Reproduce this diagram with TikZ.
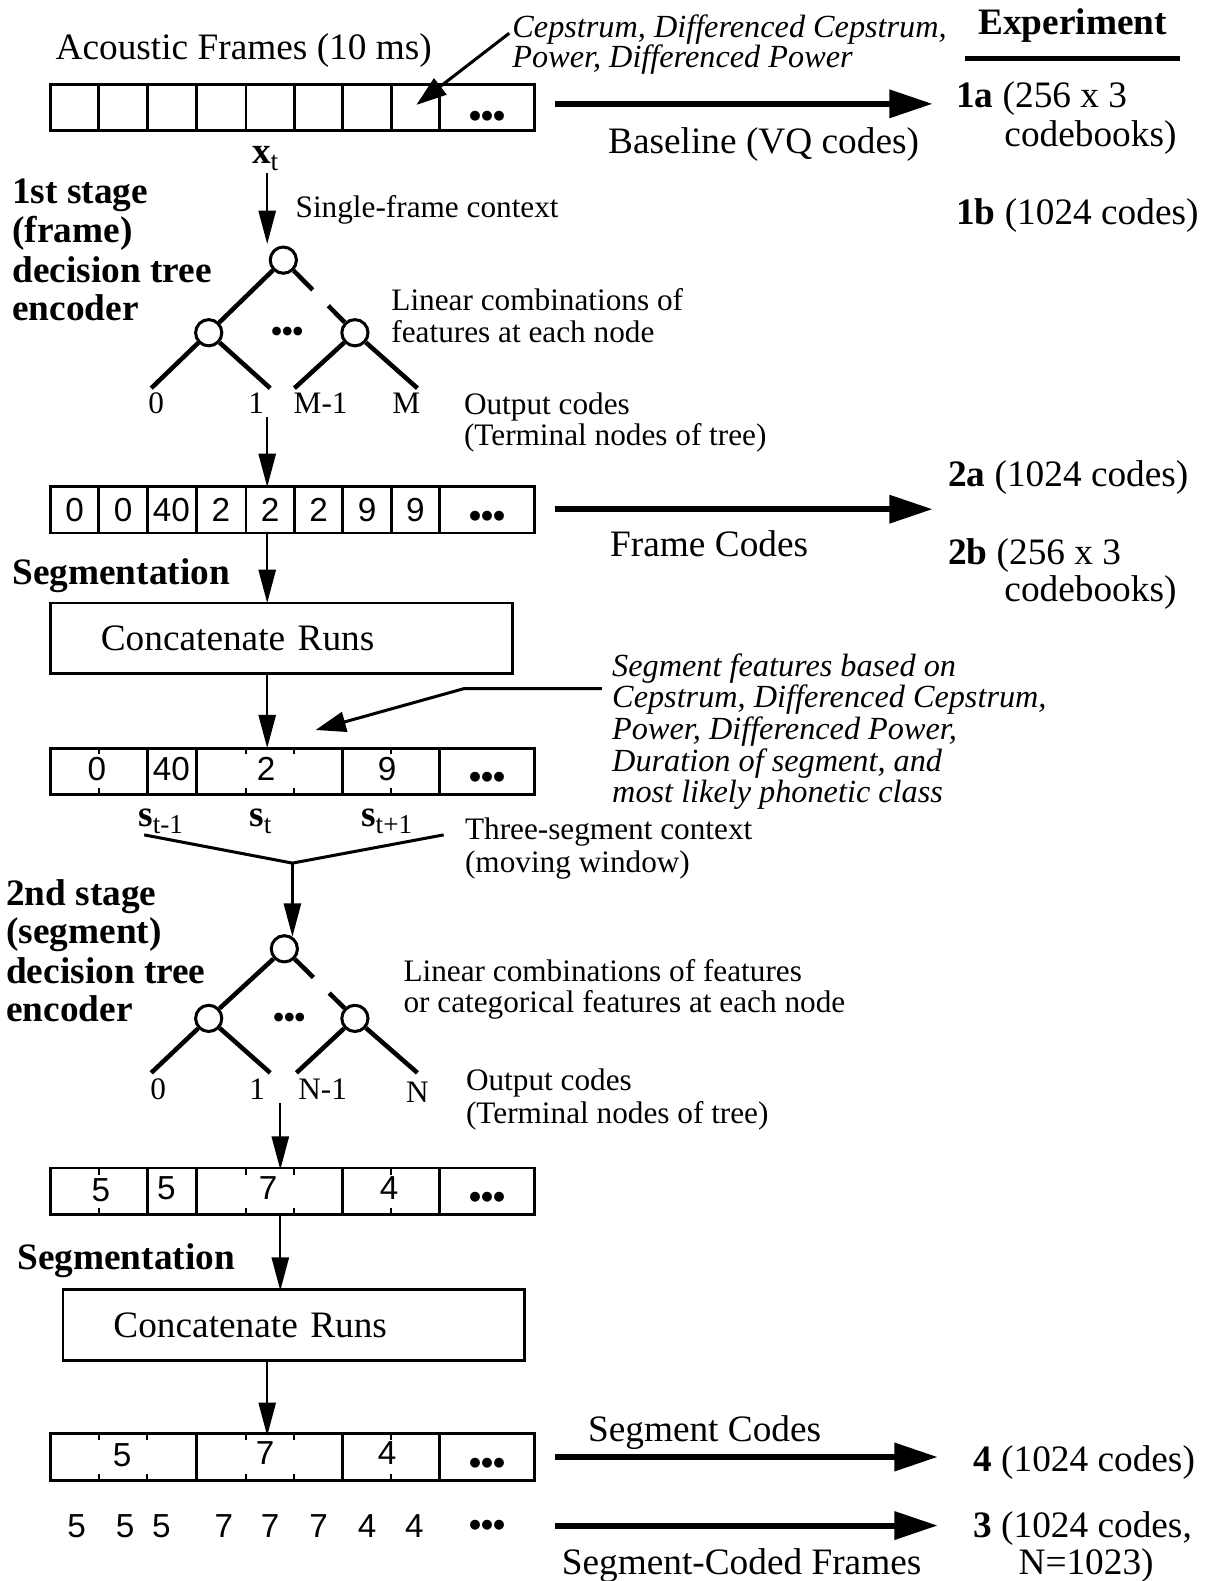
\documentclass[tikz,border=0pt]{standalone}
\usepackage{fontspec}
\setmainfont{Liberation Serif}
\setsansfont{Liberation Sans}
\usetikzlibrary{arrows.meta,calc}
\newcommand\sbt[1]{\raisebox{-0.18em}{\fontsize{27}{30}\selectfont\mdseries #1}}
\begin{document}
\begin{tikzpicture}[x=1pt,y=-1pt,
  L/.style={font=\fontsize{37}{40}\selectfont, inner sep=0pt, anchor=base west},
  S/.style={font=\fontsize{31}{34}\selectfont, inner sep=0pt, anchor=base west},
  B/.style={font=\fontsize{37}{40}\selectfont\bfseries, inner sep=0pt, anchor=base west},
  I/.style={font=\fontsize{32}{34}\selectfont\itshape, inner sep=0pt, anchor=base west},
  D/.style={font=\sffamily\fontsize{33}{36}\selectfont, inner sep=0pt, anchor=base},
  lf/.style={font=\fontsize{31}{34}\selectfont, inner sep=0pt, anchor=base},
  dots/.style={font=\sffamily\bfseries\fontsize{34}{36}\selectfont, inner sep=0pt, anchor=base},
  tdots/.style={font=\sffamily\bfseries\fontsize{30}{32}\selectfont, inner sep=0pt, anchor=base},
  rowbox/.style={draw, line width=2.7pt, inner sep=0pt, minimum width=480pt, minimum height=46pt},
  cbox/.style={draw, line width=2.7pt, inner ysep=0pt, inner xsep=50pt, text width=358pt, align=left, minimum height=70pt, font=\fontsize{37}{40}\selectfont},
  div/.style={line width=2.7pt},
  tick/.style={line width=2pt},
  varrow/.style={line width=2.2pt, -{Triangle[length=33pt,width=17pt]}},
  harrow/.style={line width=6pt, -{Triangle[length=43pt,width=27pt]}},
  parrow/.style={line width=3pt, -{Triangle[length=30pt,width=20pt]}},
  tn/.style={circle, draw, line width=3pt, minimum size=26pt, inner sep=0pt},
  te/.style={line width=4.5pt},
  br/.style={line width=3pt},
]
\useasboundingbox (0,0) rectangle (1199,1568);

% ---------- header ----------
\node[L] (acf) at (55,59) {Acoustic Frames (10 ms)};
\node[I] (feat1a) at (508,37) {Cepstrum, Differenced Cepstrum,};
\node[I] (feat1b) at (508,67) {Power, Differenced Power};
\node[B] (exph) at (970,34) {Experiment};
\draw[line width=5pt] (957,58) -- (1170,58);

% ---------- row 1 ----------
\node[rowbox] (row1) at (290,106.5) {};
\foreach \x in {98,146,195,244,292,340,388,436} \draw[div] (\x,83.5) -- (\x,129.5);
\node[dots] (r1d) at (483,126) {•••};
\coordinate (f1s) at (505,33);
\coordinate (f1e) at (413,104);
\draw[parrow] (f1s) -- (f1e);

\coordinate (h1s) at (550,103);
\coordinate (h1e) at (925,103);
\draw[harrow] (h1s) -- (h1e);
\node[L] (bl) at (603,152) {Baseline (VQ codes)};
\node[L] (e1a) at (948,107) {\textbf{1a} (256 x 3};
\node[L] (e1a2) at (996,145) {codebooks)};
\node[L] (e1b) at (948,223) {\textbf{1b} (1024 codes)};

\node[B, anchor=base] (xt) at (263,162) {x\sbt{t}};

% ---------- stage 1 ----------
\node[B] at (12,202) {1st stage};
\node[B] at (12,241) {(frame)};
\node[B] at (12,280) {decision tree};
\node[B] at (12,318) {encoder};
\node[S] (sfc) at (293,216) {Single-frame context};

\node[tn] (t1r) at (281,258) {};
\node[tn] (t1a) at (207,330) {};
\node[tn] (t1b) at (352,330) {};
\node[tdots] (t1d) at (285,339) {•••};
\draw[varrow] (265,172) -- (265,242);
\draw[te] (t1r) -- (t1a);
\draw[te, dash pattern=on 27pt off 22pt on 40pt] (t1r) -- (t1b);
\coordinate (t1l0) at (150,385);
\coordinate (t1l1) at (268,385);
\coordinate (t1l2) at (292,385);
\coordinate (t1l3) at (414,385);
\draw[te] (t1a) -- (t1l0);
\draw[te] (t1a) -- (t1l1);
\draw[te] (t1b) -- (t1l2);
\draw[te] (t1b) -- (t1l3);
\node[lf] at (155,410) {0};
\node[lf] at (254,410) {1};
\node[lf] at (318,410) {M-1};
\node[lf] at (403,410) {M};
\node[S] at (388,308) {Linear combinations of};
\node[S] at (388,340) {features at each node};
\node[S] at (460,411) {Output codes};
\node[S] at (460,442) {(Terminal nodes of tree)};
\draw[varrow] (265,414) -- (265,483);

% ---------- row 2 ----------
\node[rowbox] (row2) at (290,505.5) {};
\foreach \x in {98,146,195,244,292,340,388,436} \draw[div] (\x,483) -- (\x,528);
\foreach \x/\v in {74/0,122/0,170/40,219/2,268/2,316/2,364/9,412/9} \node[D] at (\x,517) {\v};
\node[dots] (r2d) at (483,523) {•••};
\draw[harrow] (550,505) -- (925,505);
\node[L] at (605,552) {Frame Codes};
\node[L] at (940,482) {\textbf{2a} (1024 codes)};
\node[L] at (940,560) {\textbf{2b} (256 x 3};
\node[L] at (996,597) {codebooks)};

\node[B] at (12,580) {Segmentation};
\draw[varrow] (265,528) -- (265,598);
\node[cbox] (cr1) at (279,633) {Concatenate Runs};
\draw[varrow] (cr1.south -| 265,0) -- (265,742);

% ---------- segment features ----------
\node[I] at (607,671) {Segment features based on};
\node[I] at (607,702) {Cepstrum, Differenced Cepstrum,};
\node[I] at (607,733) {Power, Differenced Power,};
\node[I] at (607,765) {Duration of segment, and};
\node[I] at (607,796) {most likely phonetic class};
\draw[parrow] (597,683) -- (460,683) -- (313,724);

% ---------- row 3 ----------
\node[rowbox] (row3) at (290,765) {};
\foreach \x in {146,195,340,436} \draw[div] (\x,742) -- (\x,788);
\foreach \x in {98,244,292,388} {\draw[tick] (\x,742) -- (\x,748); \draw[tick] (\x,788) -- (\x,782);}
\node[D] at (96,774) {0};
\node[D] at (170,774) {40};
\node[D] at (264,774) {2};
\node[D] at (384,774) {9};
\node[dots] (r3d) at (483,782) {•••};

\node[B] at (137,820) {s\sbt{t-1}};
\node[B] at (247,820) {s\sbt{t}};
\node[B] at (358,820) {s\sbt{t+1}};
\node[S] at (461,833) {Three-segment context};
\node[S] at (461,865) {(moving window)};
\coordinate (bj) at (290,856);
\draw[br] (143,828) -- (bj) -- (440,828);
\draw[varrow] (bj) -- (290,929);

% ---------- stage 2 ----------
\node[B] at (6,898) {2nd stage};
\node[B] at (6,936) {(segment)};
\node[B] at (6,975) {decision tree};
\node[B] at (6,1013) {encoder};

\node[tn] (t2r) at (282,941) {};
\node[tn] (t2a) at (207,1010) {};
\node[tn] (t2b) at (352,1010) {};
\node[tdots] (t2d) at (287,1019) {•••};
\draw[te] (t2r) -- (t2a);
\draw[te, dash pattern=on 26pt off 22pt on 40pt] (t2r) -- (t2b);
\coordinate (t2l0) at (150,1064);
\coordinate (t2l1) at (268,1064);
\coordinate (t2l2) at (294,1064);
\coordinate (t2l3) at (414,1064);
\draw[te] (t2a) -- (t2l0);
\draw[te] (t2a) -- (t2l1);
\draw[te] (t2b) -- (t2l2);
\draw[te] (t2b) -- (t2l3);
\node[lf] at (157,1090) {0};
\node[lf] at (255,1090) {1};
\node[lf] at (320,1090) {N-1};
\node[lf] at (414,1093) {N};
\node[S] at (400,973) {Linear combinations of features};
\node[S] at (400,1004) {or categorical features at each node};
\node[S] at (462,1082) {Output codes};
\node[S] at (462,1114) {(Terminal nodes of tree)};
\draw[varrow] (278,1094) -- (278,1160);

% ---------- row 4 ----------
\node[rowbox] (row4) at (290,1181.5) {};
\foreach \x in {146,195,340,436} \draw[div] (\x,1159) -- (\x,1204);
\foreach \x in {98,244,292,388} {\draw[tick] (\x,1159) -- (\x,1165); \draw[tick] (\x,1204) -- (\x,1198);}
\node[D] at (100,1192) {5};
\node[D] at (165,1190) {5};
\node[D] at (266,1190) {7};
\node[D] at (386,1190) {4};
\node[dots] (r4d) at (483,1199) {•••};

\node[B] at (17,1259) {Segmentation};
\draw[varrow] (278,1204) -- (278,1280);
\node[cbox] (cr2) at (291.5,1314) {Concatenate Runs};
\draw[varrow] (265,1349) -- (265,1424);

% ---------- row 5 ----------
\node[rowbox] (row5) at (290,1445) {};
\foreach \x in {195,340,436} \draw[div] (\x,1422) -- (\x,1468);
\foreach \x in {98,146,244,292,388} {\draw[tick] (\x,1422) -- (\x,1428); \draw[tick] (\x,1468) -- (\x,1462);}
\node[D] at (121,1454) {5};
\node[D] at (263,1452) {7};
\node[D] at (384,1452) {4};
\node[dots] (r5d) at (483,1462) {•••};
\draw[harrow] (550,1445) -- (930,1445);
\node[L] at (583,1430) {Segment Codes};
\node[L] at (965,1459) {\textbf{4} (1024 codes)};

% ---------- bottom ----------
\foreach \x/\v in {76/5,124/5,160/5,222/7,268/7,316/7,364/4,411/4} \node[D] at (\x,1525) {\v};
\node[dots] at (483,1524) {•••};
\draw[harrow] (550,1513) -- (930,1513);
\node[L] at (557,1562) {Segment-Coded Frames};
\node[L] at (965,1525) {\textbf{3} (1024 codes,};
\node[L] at (1010,1562) {N=1023)};
\end{tikzpicture}
\end{document}
